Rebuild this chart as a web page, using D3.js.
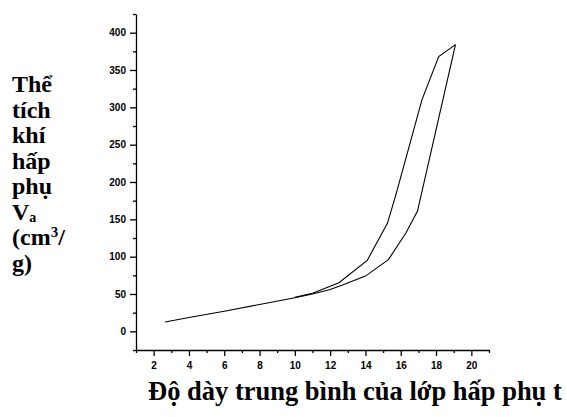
<!DOCTYPE html>
<html>
<head>
<meta charset="utf-8">
<script src="https://cdn.jsdelivr.net/npm/d3@7"></script>
<style>
  body { margin: 0; background: #fff; }
  .tick text { font-family: "Liberation Sans", Arial, sans-serif; font-weight: bold; font-size: 10px; fill: #000; }
  .title { font-family: "Liberation Serif", "Times New Roman", serif; font-weight: bold; font-size: 24px; fill: #000; }
  .xtitle { font-size: 26.5px; }
</style>
</head>
<body>
<div id="chart"></div>
<script>
// adsorption branch (lower curve)
var adsX = [2.65, 4, 6, 8, 10, 11, 12, 12.7, 14, 15.3, 16.3, 16.95, 19.1];
var adsY = [12.5, 18.5, 27, 36, 45, 50, 56, 62, 74, 96, 132, 161, 384];
// desorption branch (upper curve)
var desX = [19.1, 18.15, 17.2, 15.75, 15.25, 14.1, 12.5, 11, 10];
var desY = [384, 368, 310, 185, 145, 95, 65, 51, 45.5];

var xTicks = [2, 4, 6, 8, 10, 12, 14, 16, 18, 20];
var yTicks = [0, 50, 100, 150, 200, 250, 300, 350, 400];
var yTitle = ["Thể", "tích", "khí", "hấp", "phụ"];
var xTitle = "Độ dày trung bình của lớp hấp phụ t";

var svgWidth = 567, svgHeight = 417;

var svg = d3.select("#chart").append("svg")
  .attr("width", svgWidth)
  .attr("height", svgHeight);

var x = d3.scaleLinear().domain([1, 21]).range([136, 489]);
var y = d3.scaleLinear().domain([-25, 425]).range([350, 14]);

// x axis: major ticks labelled, minor in between
var minorX = d3.range(1, 22, 1).filter(d => d % 2 === 1);
svg.append("g")
  .attr("transform", "translate(0,350)")
  .call(d3.axisBottom(x).tickValues(minorX).tickSize(3).tickFormat(""))
  .call(g => g.select(".domain").remove());
var xAxis = svg.append("g")
  .attr("transform", "translate(0,350)")
  .call(d3.axisBottom(x).tickValues(xTicks).tickSize(6).tickSizeOuter(0).tickPadding(6));

var minorY = d3.range(-25, 426, 50);
svg.append("g")
  .attr("transform", "translate(136,0)")
  .call(d3.axisLeft(y).tickValues(minorY).tickSize(3).tickFormat(""))
  .call(g => g.select(".domain").remove());
var yAxis = svg.append("g")
  .attr("transform", "translate(136,0)")
  .call(d3.axisLeft(y).tickValues(yTicks).tickSize(6).tickSizeOuter(0).tickPadding(4));

svg.selectAll(".domain, .tick line").attr("stroke", "#000").attr("stroke-width", 1.3);

var line = d3.line().x(d => x(d[0])).y(d => y(d[1]));

svg.append("path")
  .datum(adsX.map((v, i) => [v, adsY[i]]))
  .attr("d", line)
  .attr("fill", "none").attr("stroke", "#000").attr("stroke-width", 1.1);

svg.append("path")
  .datum(desX.map((v, i) => [v, desY[i]]))
  .attr("d", line)
  .attr("fill", "none").attr("stroke", "#000").attr("stroke-width", 1.1);

// y title, stacked words
var lineH = 25.5;
yTitle.forEach(function(w, i) {
  svg.append("text").attr("class", "title")
    .attr("x", 12).attr("y", 92 + i * lineH).text(w);
});
var va = svg.append("text").attr("class", "title").attr("x", 12).attr("y", 92 + 5 * lineH);
va.append("tspan").text("V");
va.append("tspan").attr("font-size", "14px").attr("dy", 2).text("a");
var cm = svg.append("text").attr("class", "title").attr("x", 12).attr("y", 92 + 6 * lineH);
cm.append("tspan").text("(cm");
cm.append("tspan").attr("font-size", "15px").attr("dy", -8).text("3");
cm.append("tspan").attr("dy", 8).text("/");
svg.append("text").attr("class", "title").attr("x", 12).attr("y", 92 + 7 * lineH).text("g)");

svg.append("text").attr("class", "title xtitle")
  .attr("x", 148).attr("y", 400).text(xTitle);
</script>
</body>
</html>
